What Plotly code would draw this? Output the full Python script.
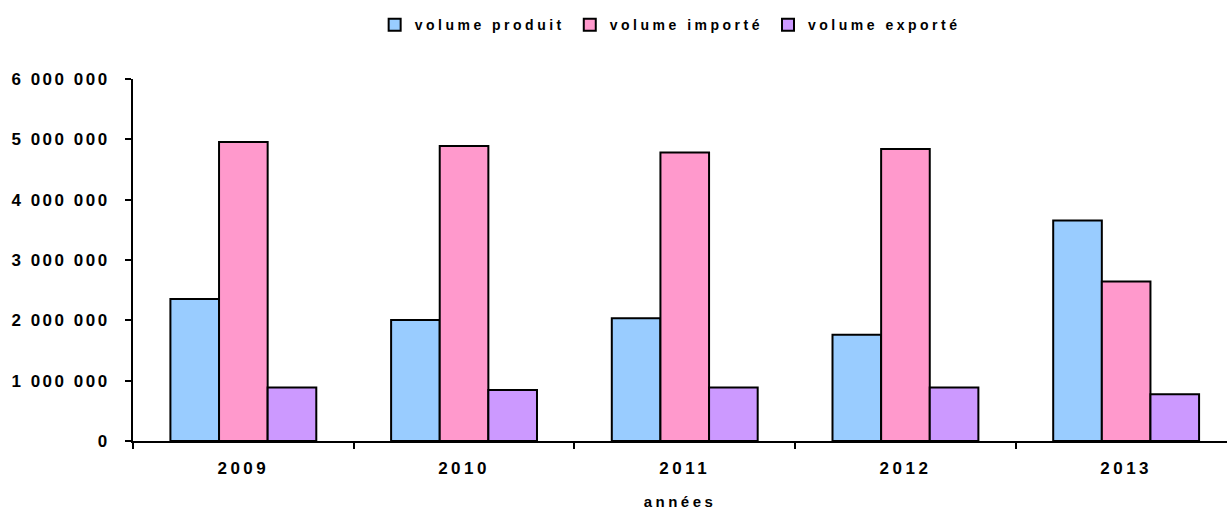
import plotly.graph_objects as go

years = ["2009", "2010", "2011", "2012", "2013"]
volume_produit = [2355000, 2005000, 2035000, 1760000, 3655000]
volume_importe = [4955000, 4890000, 4780000, 4840000, 2645000]
volume_exporte = [885000, 845000, 885000, 885000, 775000]

series_names = ["volume produit", "volume importé", "volume exporté"]
series_colors = ["#99CCFF", "#FF99CC", "#CC99FF"]

y_tick_values = [0, 1000000, 2000000, 3000000, 4000000, 5000000, 6000000]
y_tick_labels = ["0", "1 000 000", "2 000 000", "3 000 000", "4 000 000", "5 000 000", "6 000 000"]
x_title = "années"


def spaced(s, px=3):
    return f'<span style="letter-spacing:{px}px">{s}</span>'


FONT = "Liberation Sans, Arial, sans-serif"

fig = go.Figure()
for name, vals, col in zip(series_names, [volume_produit, volume_importe, volume_exporte], series_colors):
    fig.add_trace(go.Bar(
        x=years, y=vals, name=spaced(name, 3.5),
        marker=dict(color=col, line=dict(color="black", width=2)),
    ))

fig.update_layout(
    width=1227, height=510,
    margin=dict(l=133, r=0, t=79, b=69, pad=0),
    paper_bgcolor="white", plot_bgcolor="white",
    barmode="group", bargap=0.339, bargroupgap=0,
    font=dict(family=FONT, size=14, color="black", weight="bold"),
    showlegend=True,
    legend=dict(orientation="h", x=0.491, xanchor="center", y=1.149, yanchor="middle",
                font=dict(family=FONT, size=14, color="black", weight="bold"),
                itemwidth=30, traceorder="normal"),
)

fig.update_xaxes(
    type="category", range=[-0.5, 4.457], automargin=False,
    tickmode="array", tickvals=years, ticktext=[spaced(y, 3.5) for y in years],
    tickson="boundaries", ticks="outside", ticklen=6, tickwidth=2, tickcolor="black",
    showline=True, linecolor="black", linewidth=2, showgrid=False, zeroline=False,
    tickfont=dict(family=FONT, size=17, color="black", weight="bold"),
    ticklabelstandoff=11,
    title=dict(text=spaced(x_title, 3.5), standoff=22,
               font=dict(family=FONT, size=15, color="black", weight="bold")),
)

fig.update_yaxes(
    range=[0, 6000000], tickmode="array", tickvals=y_tick_values, automargin=False,
    ticktext=[spaced(t, 2.5) for t in y_tick_labels],
    ticks="outside", ticklen=6, tickwidth=2, tickcolor="black",
    showline=True, linecolor="black", linewidth=2, showgrid=False, zeroline=False,
    tickfont=dict(family=FONT, size=17, color="black", weight="bold"),
    ticklabelstandoff=12,
)

fig.write_html("out.html", config={"displayModeBar": False},
               post_script="document.body.style.margin='0';")
